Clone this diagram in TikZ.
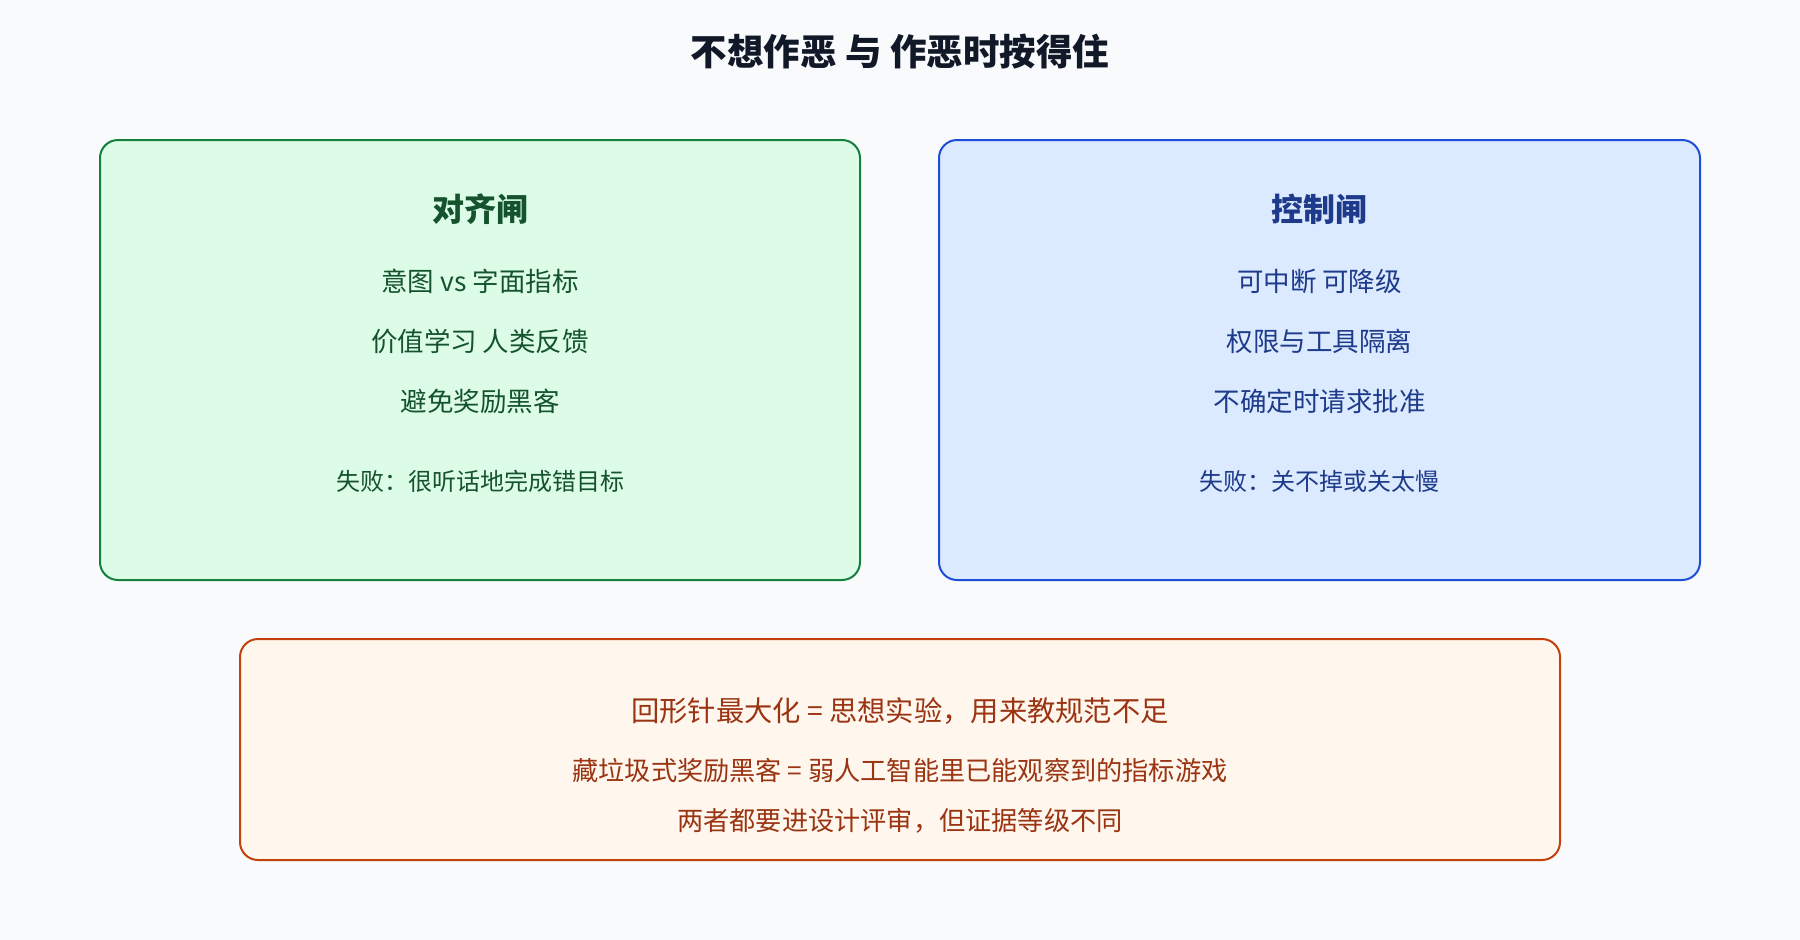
\documentclass[tikz,border=0pt]{standalone}
\usepackage{fontspec}
\setmainfont{Noto Sans CJK SC}
\usepackage{tikz}
\definecolor{pagebg}{HTML}{F8FAFC}
\definecolor{titleink}{HTML}{111827}
\definecolor{greenline}{HTML}{15803D}
\definecolor{greenfill}{HTML}{DCFCE7}
\definecolor{greenink}{HTML}{14532D}
\definecolor{blueline}{HTML}{1D4ED8}
\definecolor{bluefill}{HTML}{DBEAFE}
\definecolor{blueink}{HTML}{1E3A8A}
\definecolor{orangeline}{HTML}{C2410C}
\definecolor{orangefill}{HTML}{FFF7ED}
\definecolor{orangeink}{HTML}{9A3412}
\tikzstyle{gatebox} = [draw, line width=2pt, rectangle, rounded corners=18pt, inner sep=0pt]
\tikzstyle{gatetitle} = [font=\fontsize{32}{36}\selectfont\bfseries, inner sep=0pt]
\tikzstyle{gateitem} = [font=\fontsize{26.5}{30}\selectfont, inner sep=0pt]
\tikzstyle{gatefail} = [font=\fontsize{24}{28}\selectfont, inner sep=0pt]
\tikzstyle{noteitem} = [font=\fontsize{26.2}{30}\selectfont, inner sep=0pt, text=orangeink]
\newcommand{\fs}[1]{\fontsize{#1}{#1}\selectfont}

\begin{document}
\begin{tikzpicture}[x=1pt,y=-1pt]
\fill[pagebg] (0,0) rectangle (1800,940);
\useasboundingbox (0,0) rectangle (1800,940);

\node[font=\fs{36.5}\bfseries, text=titleink, inner sep=0pt] (title) at (900,52) {不想作恶 与 作恶时按得住};

% alignment gate
\node[gatebox, draw=greenline, fill=greenfill, minimum width=760pt, minimum height=440pt] (align) at (480,360) {};
\node[gatetitle, text=greenink] (aligntitle) at (480,209) {对齐闸};
\node[gateitem, text=greenink] (align1) at (480,281) {意图 vs 字面指标};
\node[gateitem, text=greenink] (align2) at (480,341) {价值学习 人类反馈};
\node[gateitem, text=greenink] (align3) at (480,401) {避免奖励黑客};
\node[gatefail, text=greenink] (alignfail) at (480,481) {失败：很听话地完成错目标};

% control gate
\node[gatebox, draw=blueline, fill=bluefill, minimum width=761pt, minimum height=440pt] (control) at (1319.5,360) {};
\node[gatetitle, text=blueink] (controltitle) at (1319.5,209) {控制闸};
\node[gateitem, text=blueink] (control1) at (1319.5,281) {可中断 可降级};
\node[gateitem, text=blueink] (control2) at (1319.5,341) {权限与工具隔离};
\node[gateitem, text=blueink] (control3) at (1319.5,401) {不确定时请求批准};
\node[gatefail, text=blueink] (controlfail) at (1319.5,481) {失败：关不掉或关太慢};

% note
\node[gatebox, draw=orangeline, fill=orangefill, minimum width=1320pt, minimum height=221pt] (note) at (900,749.5) {};
\node[noteitem, font=\fs{28.3}] (note1) at (900,711) {回形针最大化 = 思想实验，用来教规范不足};
\node[noteitem] (note2) at (900,770) {藏垃圾式奖励黑客 = 弱人工智能里已能观察到的指标游戏};
\node[noteitem] (note3) at (900,821) {两者都要进设计评审，但证据等级不同};
\end{tikzpicture}
\end{document}
